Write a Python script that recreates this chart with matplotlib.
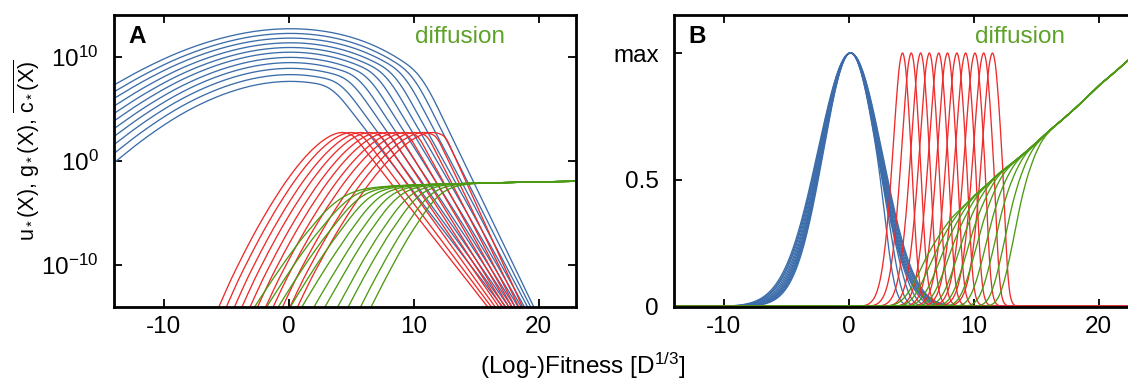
import numpy as np
import matplotlib
matplotlib.use("Agg")
import matplotlib.pyplot as plt
from matplotlib.ticker import NullLocator

plt.rcParams['font.family'] = ['Liberation Sans', 'DejaVu Sans']
plt.rcParams['mathtext.fontset'] = 'custom'
plt.rcParams['mathtext.rm'] = 'Liberation Sans'
plt.rcParams['mathtext.it'] = 'Liberation Sans:italic'
plt.rcParams['mathtext.bf'] = 'Liberation Sans:bold'

# ---------------- data (panel A, log10 units) ----------------
# red family g*(X): per-curve peak position, width factor and tail end (where it hits 1e-14)
RED_PEAK_X = [4.3, 5.0, 5.75, 6.45, 7.2, 7.9, 8.65, 9.35, 10.1, 10.8, 11.5]
RED_WIDTH = [0.99, 1.0, 1.01, 1.02, 1.03, 1.04, 1.05, 1.06, 1.06, 1.07, 1.08]
RED_TAIL_END_X = [15.9, 16.2, 16.5, 16.8, 17.05, 17.3, 17.6, 17.85, 18.1, 18.4, 18.7]
RED_TOP_LOG = 2.73
# red profile read around one peak (offset from peak, log10 drop)
RED_DX = [-11.02, -10.02, -9.02, -8.02, -7.02, -6.02, -5.02, -4.52, -4.02, -3.52, -3.02,
          -2.77, -2.52, -2.27, -2.02, -1.77, -1.52, -1.27, -1.02, -0.77, -0.52, -0.23,
          0.0, 0.25, 0.5, 0.75, 1.0]
RED_DLOG = [-19.70, -16.81, -14.12, -11.71, -9.46, -7.39, -5.50, -4.63, -3.82, -3.06, -2.37,
            -2.04, -1.75, -1.46, -1.20, -0.95, -0.73, -0.53, -0.36, -0.22, -0.10, -0.03,
            0.0, -0.03, -0.11, -0.25, -0.45]

# blue family c*(X): peak height, value at left edge (x=-14), tail end at 1e-14
BLUE_PEAK_LOG = [7.65, 8.3, 8.9, 9.45, 9.95, 10.45, 10.9, 11.35, 11.8, 12.25, 12.7]
BLUE_LEFT_LOG = [-0.2, 0.7, 1.55, 2.33, 3.08, 3.82, 4.54, 5.25, 5.98, 6.62, 7.28]
BLUE_TAIL_END_X = [17.1, 17.35, 17.6, 17.85, 18.1, 18.35, 18.6, 18.85, 19.1, 19.35, 19.6]
# blue profile (relative to its peak at x=0)
BLUE_DX = [-14, -12, -10, -9, -8, -7, -6, -5, -4, -3, -2, -1, 0, 1, 2, 3, 4, 5, 6, 7, 8,
           9, 10, 10.7, 11.2, 11.7]
BLUE_T = [-5.61, -4.21, -3.0, -2.46, -1.97, -1.54, -1.15, -0.82, -0.54, -0.31, -0.15,
          -0.04, 0.0, -0.02, -0.12, -0.28, -0.52, -0.84, -1.25, -1.76, -2.38, -3.12,
          -3.99, -4.70, -5.35, -6.05]

# green family u*(X): common asymptote plus per-curve deficit
GREEN_LINE_X = [-14, 4, 6, 8, 10, 12, 14, 16, 18, 20, 23]
GREEN_LINE_LOG = [-2.75, -2.73, -2.55, -2.43, -2.33, -2.25, -2.19, -2.13, -2.08, -2.03, -1.97]
GREEN_MERGE_X = [8.4, 9.1, 9.85, 10.55, 11.3, 12.0, 12.7, 13.45, 14.15, 14.9, 15.6]
GREEN_WIDTH = [1.25, 1.22, 1.2, 1.17, 1.15, 1.12, 1.1, 1.07, 1.05, 1.02, 1.0]
GREEN_DX = [-11, -10, -9, -8, -7, -6, -5, -4.5, -4, -3.5, -3, -2.5, -2, -1.5, -1, -0.5, 0, 1]
GREEN_S = [-16.2, -13.85, -11.5, -9.2, -7.0, -4.95, -3.15, -2.3, -1.58, -1.0, -0.6, -0.35,
           -0.19, -0.10, -0.05, -0.02, -0.005, 0.0]

X_TICKS = [-10, 0, 10, 20]
XLIM = (-14, 23)

BLUE = '#3c6daa'
RED = '#ee2b2b'
GREEN = '#4c9a12'
TEXT_GREEN = '#5ea22a'


def smooth(y, n):
    pad = n // 2
    left = 2 * y[0] - y[1:pad + 1][::-1]
    right = 2 * y[-1] - y[-pad - 1:-1][::-1]
    yp = np.concatenate([left, y, right])
    return np.convolve(yp, np.ones(n) / n, mode='valid')


X = np.linspace(XLIM[0], XLIM[1], 1851)

blue_logs, red_logs, green_logs = [], [], []
t_left = BLUE_T[0]
for k in range(len(RED_PEAK_X)):
    # blue
    a = (BLUE_LEFT_LOG[k] - BLUE_PEAK_LOG[k]) / t_left
    j = RED_PEAK_X[k] - 0.8
    core = BLUE_PEAK_LOG[k] + a * np.interp(X, BLUE_DX, BLUE_T)
    yj = BLUE_PEAK_LOG[k] + a * np.interp(j, BLUE_DX, BLUE_T)
    sl = (-14 - yj) / (BLUE_TAIL_END_X[k] - j)
    lc = np.where(X <= j, core, yj + sl * (X - j))
    blue_logs.append(smooth(smooth(lc, 101), 61))
    # red
    p, h = RED_PEAK_X[k], RED_WIDTH[k]
    core = RED_TOP_LOG + np.interp((X - p) / h, RED_DX, RED_DLOG)
    xr = p + RED_DX[-1] * h
    yr = RED_TOP_LOG + RED_DLOG[-1]
    sl = (-14 - yr) / (RED_TAIL_END_X[k] - xr)
    lg = np.where(X <= xr, core, yr + sl * (X - xr))
    red_logs.append(smooth(lg, 31))
    # green
    m, hg = GREEN_MERGE_X[k], GREEN_WIDTH[k]
    lu = np.interp(X, GREEN_LINE_X, GREEN_LINE_LOG) + np.interp((X - m) / hg, GREEN_DX, GREEN_S)
    green_logs.append(smooth(lu, 31))

fig = plt.figure(figsize=(11.28, 3.79), dpi=100)
W, H = 1128.0, 379.0
axA = fig.add_axes([114 / W, (H - 306.5) / H, 462 / W, 291.5 / H])
axB = fig.add_axes([674 / W, (H - 306.5) / H, 462 / W, 291.5 / H])

lw = 0.95
for lc in blue_logs:
    axA.plot(X, 10 ** lc, color=BLUE, lw=lw)
for lg in red_logs:
    axA.plot(X, 10 ** lg, color=RED, lw=lw)
for lu in green_logs:
    axA.plot(X, 10 ** lu, color=GREEN, lw=lw)

for lc in blue_logs:
    axB.plot(X, 10 ** (lc - lc.max()), color=BLUE, lw=lw)
for lg in red_logs:
    axB.plot(X, 10 ** (lg - lg.max()), color=RED, lw=lw)
for lu in green_logs:
    axB.plot(X, 10 ** (lu - lu.max()), color=GREEN, lw=lw)

axA.set_yscale('log')
axA.set_ylim(1e-14, 1e14)
axA.set_yticks([1e-10, 1e0, 1e10])
axA.set_yticklabels([r'$\mathrm{10^{-10}}$', r'$\mathrm{10^{0}}$', r'$\mathrm{10^{10}}$'])
axA.yaxis.set_minor_locator(NullLocator())

axB.set_ylim(0, 1.15)
axB.set_yticks([0, 0.5, 1.0])
axB.set_yticklabels(['0', '0.5', 'max'])

for ax, lab in ((axA, 'A'), (axB, 'B')):
    ax.set_xlim(*XLIM)
    ax.set_xticks(X_TICKS)
    ax.set_xticklabels([str(v) for v in X_TICKS])
    ax.tick_params(axis='both', which='both', direction='in', length=6, width=1.3,
                   top=True, right=True, labelsize=17.5)
    ax.tick_params(axis='x', pad=7)
    ax.tick_params(axis='y', pad=11)
    for s in ax.spines.values():
        s.set_linewidth(2.0)
    ax.text(0.05, 0.925, lab, transform=ax.transAxes, fontsize=17.5, fontweight='bold',
            ha='center', va='center')
    ax.text(0.748, 0.925, 'diffusion', transform=ax.transAxes, fontsize=17.5,
            color=TEXT_GREEN, ha='center', va='center')

fig.text(27 / W, 1 - 150 / H, r'u$_*$(X), g$_*$(X), $\overline{\mathrm{c_*(X)}}$',
         rotation=90, ha='center', va='center', fontsize=15.5)
fig.text(583 / W, 1 - 366 / H, r'(Log-)Fitness [D$^{\mathrm{1/3}}$]',
         ha='center', va='center', fontsize=17.5)

fig.savefig('out.png', dpi=100)
